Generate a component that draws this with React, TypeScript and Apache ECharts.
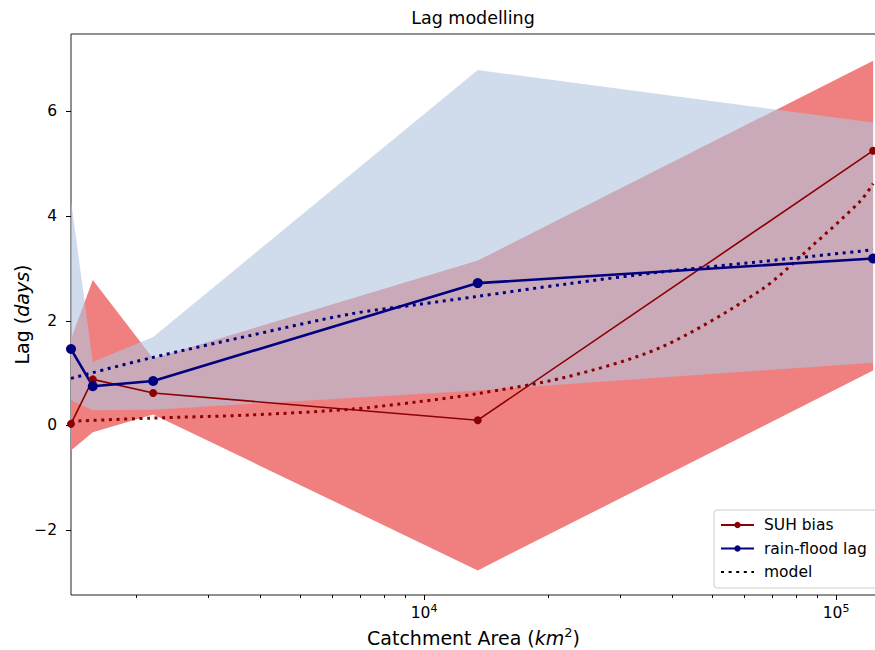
import React, { useEffect, useRef } from 'react';
import * as echarts from 'echarts';

// ---- data ----
const AREA = [1390, 1570, 2200, 13500, 123000];
const SUH_BIAS = [0.03, 0.88, 0.62, 0.1, 5.25];
const SUH_LOW = [-0.48, -0.13, 0.21, -2.77, 1.05];
const SUH_HIGH = [1.65, 2.78, 1.28, 3.15, 6.97];
const RAIN_LAG = [1.46, 0.75, 0.85, 2.72, 3.19];
const RAIN_LOW = [0.48, 0.29, 0.3, 0.67, 1.2];
const RAIN_HIGH = [4.3, 1.21, 1.69, 6.79, 5.79];
const MODEL_AREA = [1390, 2170, 3790, 6620, 9630, 13300, 22000, 37500, 65500, 86600, 114600, 123000];
const SUH_MODEL = [0.08, 0.14, 0.2, 0.31, 0.45, 0.6, 0.92, 1.49, 2.58, 3.4, 4.29, 4.62];
const RAIN_MODEL = [0.9, 1.29, 1.72, 2.13, 2.31, 2.46, 2.7, 2.93, 3.13, 3.23, 3.33, 3.36];
const Y_TICKS = [-2, 0, 2, 4, 6];
const X_MAJOR = [10000, 100000];
const X_MINOR = [2000, 3000, 4000, 5000, 6000, 7000, 8000, 9000, 20000, 30000, 40000, 50000, 60000, 70000, 80000, 90000];

const FONT = 'DejaVu Sans';
const RED = '#8B0000';
const NAVY = '#000080';
const DOT: number[] = [3, 4.6];

function band(name: string, lo: number[], hi: number[], fill: string, opacity: number) {
  return {
    type: 'custom',
    name,
    silent: true,
    coordinateSystem: 'cartesian2d',
    data: AREA.map((a, i) => [a, lo[i], hi[i]]),
    renderItem: (params: any, api: any) => {
      if (params.dataIndex !== 0) return null;
      const pts: number[][] = [];
      for (let i = 0; i < AREA.length; i++) pts.push(api.coord([AREA[i], hi[i]]));
      for (let i = AREA.length - 1; i >= 0; i--) pts.push(api.coord([AREA[i], lo[i]]));
      return { type: 'polygon', shape: { points: pts }, style: { fill, opacity } };
    },
  };
}

export default function App() {
  const ref = useRef<HTMLDivElement>(null);
  useEffect(() => {
    if (!ref.current) return;
    const chart = echarts.init(ref.current, null, { renderer: 'svg' });
    const option: any = {
      animation: false,
      backgroundColor: '#fff',
      textStyle: { fontFamily: FONT },
      title: {
        text: 'Lag modelling',
        left: 468,
        top: 4,
        textAlign: 'center',
        textStyle: { fontFamily: FONT, fontSize: 17.5, fontWeight: 'normal', color: '#000' },
      },
      grid: {
        left: 71,
        top: 34,
        right: -1,
        bottom: 55,
        containLabel: false,
        outerBoundsMode: 'none',
        show: true,
        borderColor: '#222',
        borderWidth: 1,
        backgroundColor: 'transparent',
      },
      legend: {
        data: [
          { name: 'SUH bias' },
          { name: 'rain-flood lag' },
          { name: 'model', itemStyle: { opacity: 0 } },
        ],
        orient: 'vertical',
        left: 714,
        top: 510,
        itemWidth: 33,
        itemHeight: 8,
        itemGap: 7.5,
        padding: [7, 30, 8, 6],
        backgroundColor: 'rgba(255,255,255,0.85)',
        borderColor: '#ccc',
        borderWidth: 1,
        borderRadius: 3,
        textStyle: { fontFamily: FONT, fontSize: 15.5, color: '#000', padding: [0, 0, 0, 5] },
      },
      xAxis: [
        {
          type: 'log',
          logBase: 10,
          min: 1390,
          max: 125000,
          splitLine: { show: false },
          axisLine: { show: false, onZero: false },
          axisTick: { show: true, length: 5, customValues: X_MAJOR, lineStyle: { color: '#000' } },
          axisLabel: {
            customValues: X_MAJOR,
            margin: 8,
            color: '#000',
            formatter: (v: number) => '{b|10}{s|' + Math.round(Math.log10(v)) + '}',
            rich: {
              b: { fontFamily: FONT, fontSize: 15.5, color: '#000', lineHeight: 20 },
              s: { fontFamily: FONT, fontSize: 11, color: '#000', verticalAlign: 'top', lineHeight: 13 },
            },
          },
          name: '{n|Catchment Area (}{i|km}{s|2}{n|)}',
          nameLocation: 'middle',
          nameGap: 31,
          nameMoveOverlap: false,
          nameTextStyle: {
            rich: {
              n: { fontFamily: FONT, fontSize: 19, color: '#000', lineHeight: 24 },
              i: { fontFamily: FONT, fontSize: 19, fontStyle: 'italic', color: '#000', lineHeight: 24 },
              s: { fontFamily: FONT, fontSize: 13, color: '#000', verticalAlign: 'top', lineHeight: 15 },
            },
          },
        },
        {
          type: 'log',
          logBase: 10,
          min: 1390,
          max: 125000,
          position: 'bottom',
          splitLine: { show: false },
          axisLine: { show: false, onZero: false },
          axisLabel: { show: false },
          axisTick: { show: true, length: 3, customValues: X_MINOR, lineStyle: { color: '#000' } },
        },
      ],
      yAxis: {
        type: 'value',
        min: -3.24,
        max: 7.48,
        splitLine: { show: false },
        axisLine: { show: false },
        axisTick: { show: true, length: 5, customValues: Y_TICKS, lineStyle: { color: '#000' } },
        axisLabel: {
          customValues: Y_TICKS,
          margin: 14,
          fontFamily: FONT,
          fontSize: 15.5,
          color: '#000',
          formatter: (v: number) => (v < 0 ? '\u2212' + Math.abs(v) : String(v)),
        },
        name: '{n|Lag (}{i|days}{n|)}',
        nameLocation: 'middle',
        nameGap: 40,
        nameMoveOverlap: false,
        nameTextStyle: {
          rich: {
            n: { fontFamily: FONT, fontSize: 19, color: '#000' },
            i: { fontFamily: FONT, fontSize: 19, fontStyle: 'italic', color: '#000' },
          },
        },
      },
      series: [
        band('SUH band', SUH_LOW, SUH_HIGH, '#F08080', 1),
        band('rain band', RAIN_LOW, RAIN_HIGH, '#B0C4DE', 0.6),
        {
          type: 'line',
          name: 'SUH bias',
          data: AREA.map((a, i) => [a, SUH_BIAS[i]]),
          symbol: 'circle',
          symbolSize: 8,
          color: RED,
          itemStyle: { color: RED },
          lineStyle: { color: RED, width: 1.6 },
        },
        {
          type: 'line',
          name: 'SUH model',
          data: MODEL_AREA.map((a, i) => [a, SUH_MODEL[i]]),
          symbol: 'none',
          smooth: 0.3,
          lineStyle: { color: RED, width: 3, type: DOT, cap: 'butt' },
        },
        {
          type: 'line',
          name: 'rain-flood lag',
          data: AREA.map((a, i) => [a, RAIN_LAG[i]]),
          symbol: 'circle',
          symbolSize: 10,
          color: NAVY,
          itemStyle: { color: NAVY },
          lineStyle: { color: NAVY, width: 2.6 },
        },
        {
          type: 'line',
          name: 'rain-flood model',
          data: MODEL_AREA.map((a, i) => [a, RAIN_MODEL[i]]),
          symbol: 'none',
          smooth: 0.3,
          lineStyle: { color: NAVY, width: 3, type: DOT, cap: 'butt' },
        },
        {
          type: 'line',
          name: 'model',
          data: [],
          symbol: 'none',
          color: '#000',
          lineStyle: { color: '#000', width: 3, type: DOT, cap: 'butt' },
        },
      ],
    };
    chart.setOption(option);
    return () => chart.dispose();
  }, []);
  return <div ref={ref} style={{ position: 'absolute', left: 0, top: 0, width: 875, height: 650 }} />;
}
